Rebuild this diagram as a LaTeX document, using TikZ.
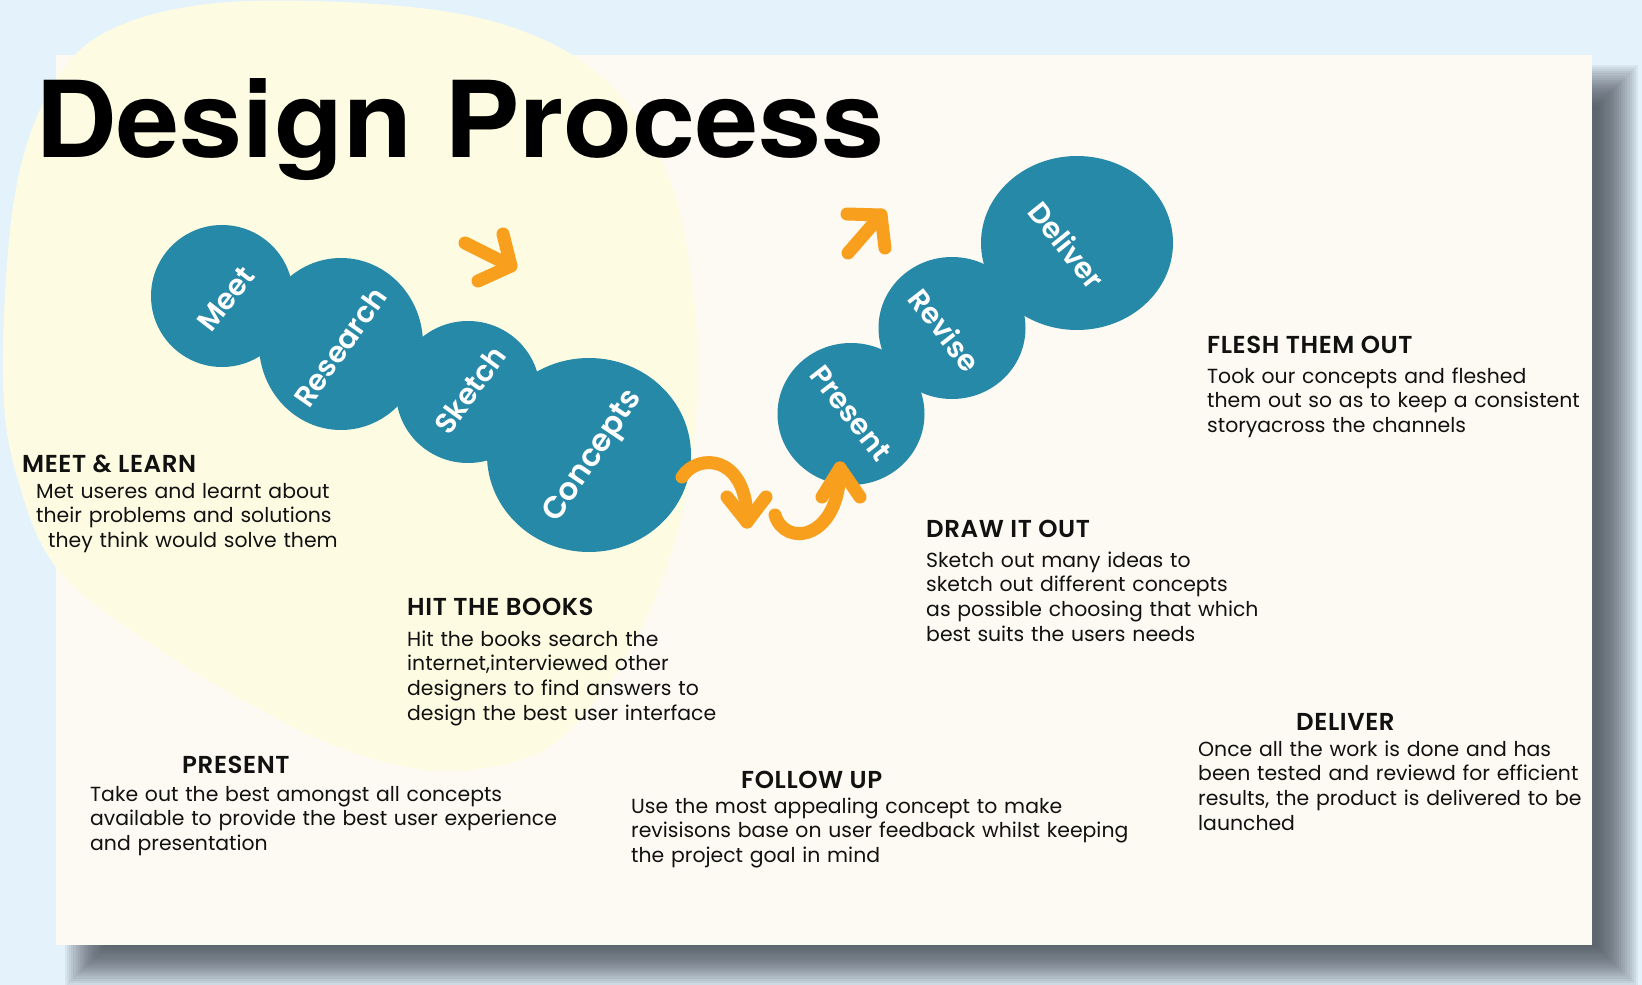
\documentclass[tikz,border=0pt]{standalone}
\usepackage{fontspec}
\setmainfont{Poppins}
\newfontfamily\semib{Poppins SemiBold}
\newfontfamily\semibsp{Poppins SemiBold}[LetterSpace=2.5]
\newfontfamily\titlefont{TeX Gyre Heros}
\usetikzlibrary{shapes.geometric}
\definecolor{bgc}{HTML}{E4F2FC}
\definecolor{cardc}{HTML}{FCFAF2}
\definecolor{blobc}{HTML}{FDFCE3}
\definecolor{tealc}{HTML}{2789A8}
\definecolor{orangec}{HTML}{F99F1E}
\definecolor{shadowc}{HTML}{3D434C}
\definecolor{inkc}{HTML}{111111}
\tikzset{
  bub/.style={ellipse, fill=tealc, inner sep=0},
  lbl/.style={text=white, inner sep=0, font=\semib\fontsize{29}{30}\selectfont},
  head/.style={anchor=base west, inner sep=0, text=inkc, font=\semibsp\fontsize{24.5}{26}\selectfont},
  body/.style={anchor=base west, inner sep=0, text=inkc, align=left, text width=520pt, font=\fontsize{20.4}{24.7}\selectfont},
  arr/.style={draw=orangec, line width=13pt, line cap=round, line join=round}
}
\begin{document}
\begin{tikzpicture}[x=1pt,y=-1pt]
\useasboundingbox (0,0) rectangle (1642,985);
\fill[bgc] (0,0) rectangle (1642,985);
% shadow
\foreach \k in {0,...,19}{
  \pgfmathsetmacro{\e}{-20+40*\k/19}
  \fill[shadowc, opacity=0.07] (85-\e,85-\e) rectangle (1618+\e,967+\e);
}
% card
\fill[cardc] (56,55) rectangle (1592,945);
% yellow blob
\fill[blobc] plot[smooth cycle, tension=0.6] coordinates {
 (230,2) (420,8) (540,38) (620,95) (670,180) (693,290) (697,400) (683,510)
 (650,610) (600,695) (540,752) (450,771) (360,755) (270,715) (160,650)
 (60,572) (18,480) (3,377) (14,200) (50,90) (110,30)};
% title
\node[anchor=base west, inner sep=0, text=black, xscale=1.068,
  font=\titlefont\bfseries\fontsize{106}{110}\selectfont] (title) at (35,157) {Design Process};
% bubbles
\node[bub, minimum width=142pt, minimum height=142pt] (cMeet) at (222,296) {};
\node[bub, minimum width=164pt, minimum height=172pt] (cResearch) at (341,344) {};
\node[bub, minimum width=144pt, minimum height=142pt] (cSketch) at (468,392) {};
\node[bub, minimum width=204pt, minimum height=194pt] (cConcepts) at (589,455) {};
\node[bub, minimum width=147pt, minimum height=142pt] (cPresent) at (851,414) {};
\node[bub, minimum width=147pt, minimum height=142pt] (cRevise) at (952,328) {};
\node[bub, minimum width=192pt, minimum height=174pt] (cDeliver) at (1077,243) {};
% labels
\node[lbl, rotate=52] (tMeet) at (226,299) {Meet};
\node[lbl, rotate=55] (tResearch) at (340,347) {Research};
\node[lbl, rotate=54] (tSketch) at (470,390) {Sketch};
\node[lbl, rotate=56, font=\semib\fontsize{31}{32}\selectfont] (tConcepts) at (594,457) {Concepts};
\node[lbl, rotate=-52] (tPresent) at (851,413) {Present};
\node[lbl, rotate=-52] (tRevise) at (945,330) {Revise};
\node[lbl, rotate=-51] (tDeliver) at (1067,245) {Deliver};
% arrows
\coordinate (a1s) at (465,243); \coordinate (a1t) at (511,266);
\coordinate (a1u) at (503,234); \coordinate (a1d) at (478,281);
\draw[arr] (a1s) -- (a1t);
\draw[arr] (a1u) -- (a1t) -- (a1d);
\coordinate (a2s) at (848,253); \coordinate (a2t) at (881,215);
\coordinate (a2l) at (847,214); \coordinate (a2d) at (885,248);
\draw[arr] (a2s) -- (a2t);
\draw[arr] (a2l) -- (a2t) -- (a2d);
\coordinate (a3s) at (682,477); \coordinate (a3t) at (747,522);
\coordinate (a3l) at (727,497); \coordinate (a3r) at (766,497);
\draw[arr] (a3s) .. controls (698,452) and (748,455) .. (a3t);
\draw[arr] (a3l) -- (a3t) -- (a3r);
\coordinate (a4s) at (775,515); \coordinate (a4t) at (840,468);
\coordinate (a4l) at (822,497); \coordinate (a4r) at (860,497);
\draw[arr] (a4s) .. controls (785,548) and (840,540) .. (a4t);
\draw[arr] (a4l) -- (a4t) -- (a4r);
% text blocks
\node[head] (hMeet) at (22,472) {MEET \& LEARN};
\node[body] (bMeet) at (36,498) {Met useres and learnt about\\their problems and solutions\\\hspace*{12pt}they think would solve them};
\node[head] (hBooks) at (407,615) {HIT THE BOOKS};
\node[body] (bBooks) at (407,646) {Hit the books search the\\internet,interviewed other\\designers to find answers to\\design the best user interface};
\node[head] (hPresent) at (182,773) {PRESENT};
\node[body] (bPresent) at (90,801) {Take out the best amongst all concepts\\available to provide the best user experience\\and presentation};
\node[head] (hFollow) at (741,788) {FOLLOW UP};
\node[body] (bFollow) at (631,813) {Use the most appealing concept to make\\revisisons base on user feedback whilst keeping\\the project goal in mind};
\node[head] (hDeliver) at (1296,730) {DELIVER};
\node[body] (bDeliver) at (1198,756) {Once all the work is done and has\\been tested and reviewd for efficient\\results, the product is delivered to be\\launched};
\node[head] (hFlesh) at (1207,353) {FLESH THEM OUT};
\node[body] (bFlesh) at (1207,383) {Took our concepts and fleshed\\them out so as to keep a consistent\\storyacross the channels};
\node[head] (hDraw) at (926,537) {DRAW IT OUT};
\node[body] (bDraw) at (926,567) {Sketch out many ideas to\\sketch out different concepts\\as possible choosing that which\\best suits the users needs};
\end{tikzpicture}
\end{document}
